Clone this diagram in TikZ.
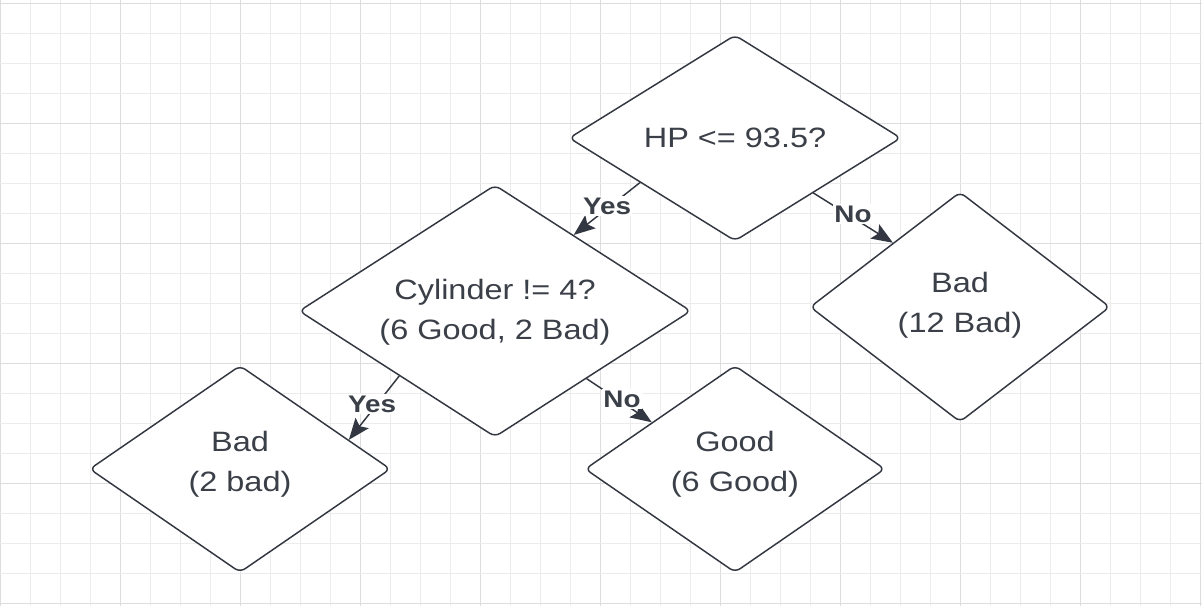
\documentclass[tikz,border=0pt]{standalone}
\usepackage{fontspec}
\setmainfont{Liberation Sans}[FakeStretch=1.16]
\usetikzlibrary{shapes.geometric,arrows.meta,calc}
\definecolor{txt}{RGB}{58,63,72}
\definecolor{ln}{RGB}{50,55,65}
\definecolor{gminor}{RGB}{236,236,236}
\definecolor{gmajor}{RGB}{221,221,221}
\newcommand\twoline[2]{\raisebox{#1}[\height][\depth]{\begin{tabular}{@{}c@{}}#2\end{tabular}}}
\begin{document}
\begin{tikzpicture}[x=0.75pt,y=-0.75pt,
  dia/.style={diamond,draw=ln,line width=1.1pt,rounded corners=4.5pt,fill=white,inner sep=0pt,
    text=txt,align=center,font=\fontsize{21pt}{30pt}\selectfont},
  lbl/.style={fill=white,inner sep=1pt,text=txt,font=\bfseries\fontsize{18pt}{20pt}\selectfont},
  conn/.style={draw=ln,line width=1.1pt,-{Stealth[length=16pt,width=12.5pt,inset=3pt]}}]
\useasboundingbox (0,0) rectangle (1202,606);
\fill[white] (0,0) rectangle (1202,606);
% grid
\foreach \k in {0,...,40}{
  \pgfmathtruncatemacro\m{mod(\k,4)}
  \ifnum\m=0 \draw[gmajor,line width=0.9pt] (0.5+30*\k,0) -- (0.5+30*\k,606);
  \else \draw[gminor,line width=0.9pt] (0.5+30*\k,0) -- (0.5+30*\k,606); \fi}
\foreach \k in {0,...,20}{
  \pgfmathtruncatemacro\m{mod(\k,4)}
  \ifnum\m=0 \draw[gmajor,line width=0.9pt] (0,3.3+30*\k) -- (1202,3.3+30*\k);
  \else \draw[gminor,line width=0.9pt] (0,3.3+30*\k) -- (1202,3.3+30*\k); \fi}
% diamonds
\node[dia,aspect=1.61,minimum width=249pt,minimum height=154.5pt] (hp) at (735,138) {HP <= 93.5?};
\node[dia,aspect=1.55,minimum width=294pt,minimum height=189pt] (cyl) at (495,311) {\twoline{0pt}{Cylinder != 4?\\(6 Good, 2 Bad)}};
\node[dia,aspect=1.3,minimum width=225pt,minimum height=172.5pt] (bad12) at (960,307) {\twoline{2pt}{Bad\\(12 Bad)}};
\node[dia,aspect=1.45,minimum width=225.75pt,minimum height=155.25pt] (bad2) at (240,469) {\twoline{4.5pt}{Bad\\(2 bad)}};
\node[dia,aspect=1.45,minimum width=225pt,minimum height=155.25pt] (good) at (735,469) {\twoline{4.5pt}{Good\\(6 Good)}};
% connectors
\draw[conn] ($(hp.west)!0.43!(hp.south)$) -- ($(cyl.north)!0.40!(cyl.east)$);
\node[lbl] (l1) at (607,206) {Yes};
\draw[conn] ($(hp.east)!0.53!(hp.south)$) -- ($(bad12.west)!0.555!(bad12.north)$);
\node[lbl] (l2) at (853,214) {No};
\draw[conn] ($(cyl.west)!0.513!(cyl.south)$) -- ($(bad2.north)!0.72!(bad2.east)$);
\node[lbl] (l3) at (372,404) {Yes};
\draw[conn] ($(cyl.east)!0.534!(cyl.south)$) -- ($(good.west)!0.448!(good.north)$);
\node[lbl] (l4) at (622,399) {No};
\end{tikzpicture}
\end{document}
